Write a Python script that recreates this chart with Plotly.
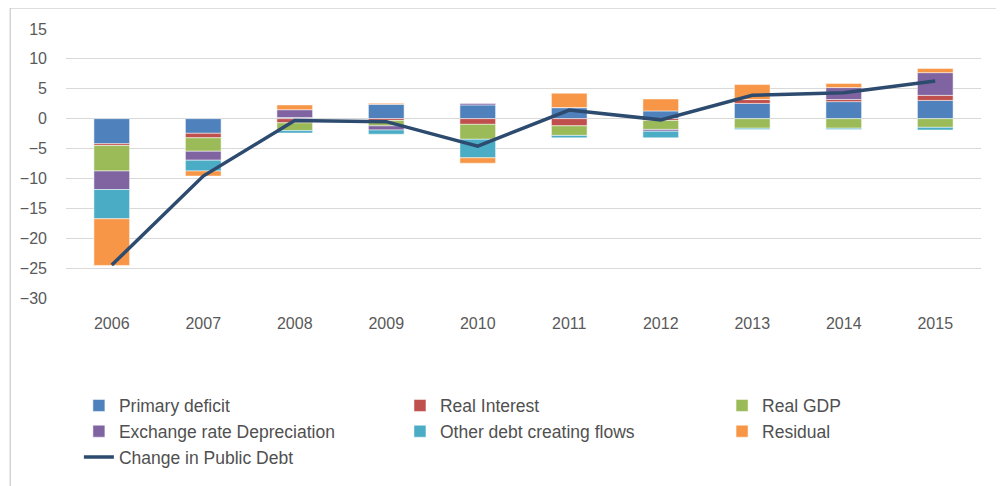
import plotly.graph_objects as go

years = ["2006", "2007", "2008", "2009", "2010", "2011", "2012", "2013", "2014", "2015"]

primary_deficit = [-4.2, -2.45, 0.2, 2.4, 2.3, 1.85, 1.3, 2.55, 2.85, 3.05]
real_interest = [-0.3, -0.75, -0.7, -0.3, -0.95, -1.2, -0.3, 0.65, 0.35, 0.85]
real_gdp = [-4.25, -2.25, -1.3, -0.9, -2.5, -1.6, -1.5, -1.6, -1.6, -1.45]
exch_depreciation = [-3.1, -1.5, 1.3, -0.7, 0.25, 0.0, -0.3, 0.0, 2.0, 3.8]
other_flows = [-4.9, -1.8, -0.4, -0.7, -3.1, -0.4, -1.1, -0.2, -0.2, -0.45]
residual = [-7.8, -0.85, 0.8, 0.17, -0.9, 2.4, 2.0, 2.5, 0.7, 0.7]
change_public_debt = [-24.5, -9.6, -0.3, -0.5, -4.6, 1.45, -0.2, 3.9, 4.35, 6.3]

# (name, values, colour, legend column)
bar_series = [
    ("Primary deficit", primary_deficit, "#4F81BD", "legend"),
    ("Real Interest", real_interest, "#C0504D", "legend2"),
    ("Real GDP", real_gdp, "#9BBB59", "legend3"),
    ("Exchange rate Depreciation", exch_depreciation, "#8064A2", "legend"),
    ("Other debt creating flows", other_flows, "#4BACC6", "legend2"),
    ("Residual", residual, "#F79646", "legend3"),
]

FONT = "Liberation Sans, Arial, sans-serif"
TICK_COLOR = "#595959"

fig = go.Figure()
for name, vals, color, leg in bar_series:
    fig.add_trace(go.Bar(
        x=years, y=vals, name=name, legend=leg, legendgroup=name,
        marker=dict(color=color, line=dict(color="white", width=0.5)),
    ))

fig.add_trace(go.Scatter(
    x=years, y=change_public_debt, name="Change in Public Debt",
    legend="legend", legendgroup="debt",
    mode="lines", line=dict(color="#2D4B6F", width=3.5),
))

# thin grey frame like the Excel chart area (only top/left visible)
fig.add_shape(type="rect", xref="paper", yref="paper",
              x0=-0.061, x1=1.05, y0=-0.75, y1=1.078,
              line=dict(color="#BFBFBF", width=1), layer="below")

leg_style = dict(
    orientation="v", yanchor="top", xanchor="left", y=-0.333,
    font=dict(family=FONT, size=17.5, color="#505050"),
    traceorder="normal", tracegroupgap=0,
    bgcolor="rgba(0,0,0,0)",
)

# page body has an 8px margin, so margins are shifted by 8px
fig.update_layout(
    width=1004, height=486,
    margin=dict(l=55, r=31, t=21, b=196),
    barmode="relative",
    bargap=0.61,
    plot_bgcolor="white",
    paper_bgcolor="white",
    font=dict(family=FONT, size=16, color=TICK_COLOR),
    showlegend=True,
    legend=dict(x=0.0141, **leg_style),
    legend2=dict(x=0.365, **leg_style),
    legend3=dict(x=0.717, **leg_style),
    xaxis=dict(
        showgrid=False, showline=False, ticks="",
        tickfont=dict(size=16, color=TICK_COLOR),
        ticklabelstandoff=14,
    ),
    yaxis=dict(
        range=[-30, 15], dtick=5, tick0=0,
        showgrid=True, gridcolor="#D9D9D9", gridwidth=1,
        zeroline=False, showline=False, ticks="",
        tickfont=dict(size=16, color=TICK_COLOR),
        ticklabelstandoff=18,
    ),
)

fig.write_html("out.html")
